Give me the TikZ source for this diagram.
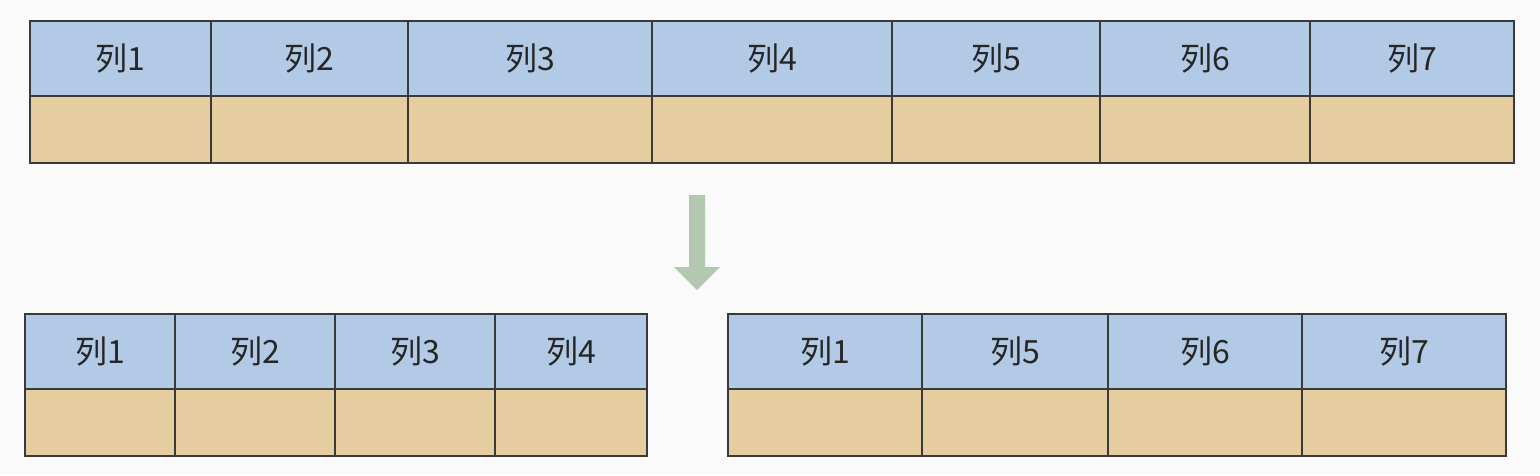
\documentclass[tikz,border=0pt]{standalone}
\usepackage{fontspec}
\newfontfamily\cjk{Noto Sans CJK SC}
\definecolor{headblue}{HTML}{B3CAE6}
\definecolor{bodytan}{HTML}{E6CDA0}
\definecolor{arrowgreen}{HTML}{B2C8B0}
\definecolor{gridline}{HTML}{3A3A3A}
\definecolor{paper}{HTML}{FAFAFA}
\tikzset{
  colhead/.style={draw=gridline,line width=1.5pt,fill=headblue,inner sep=0pt,minimum height=75pt,
    font=\cjk\fontsize{32}{36}\selectfont,text=black!85},
  colbody/.style={draw=gridline,line width=1.5pt,fill=bodytan,inner sep=0pt,minimum height=67pt}
}
\begin{document}
\begin{tikzpicture}[x=1pt,y=-1pt]
\fill[paper] (0,0) rectangle (1540,475);
\useasboundingbox (0,0) rectangle (1540,475);

% wide table
\node[colhead,minimum width=181pt] (h1) at (120.5,58.5) {列1};
\node[colhead,minimum width=197pt] (h2) at (309.5,58.5) {列2};
\node[colhead,minimum width=244pt] (h3) at (530,58.5) {列3};
\node[colhead,minimum width=240pt] (h4) at (772,58.5) {列4};
\node[colhead,minimum width=208pt] (h5) at (996,58.5) {列5};
\node[colhead,minimum width=210pt] (h6) at (1205,58.5) {列6};
\node[colhead,minimum width=204pt] (h7) at (1412,58.5) {列7};

\node[colbody,minimum width=181pt] (b1) at (120.5,129.5) {};
\node[colbody,minimum width=197pt] (b2) at (309.5,129.5) {};
\node[colbody,minimum width=244pt] (b3) at (530,129.5) {};
\node[colbody,minimum width=240pt] (b4) at (772,129.5) {};
\node[colbody,minimum width=208pt] (b5) at (996,129.5) {};
\node[colbody,minimum width=210pt] (b6) at (1205,129.5) {};
\node[colbody,minimum width=204pt] (b7) at (1412,129.5) {};

% split arrow
\fill[arrowgreen] (689,195) -- (705,195) -- (705,267) -- (720,267) -- (697,290)
  -- (674,267) -- (689,267) -- cycle;

% left part
\node[colhead,minimum width=150pt] (lh1) at (100,351.5) {列1};
\node[colhead,minimum width=160pt] (lh2) at (255,351.5) {列2};
\node[colhead,minimum width=160pt] (lh3) at (415,351.5) {列3};
\node[colhead,minimum width=152pt] (lh4) at (571,351.5) {列4};

\node[colbody,minimum width=150pt] (lb1) at (100,422.5) {};
\node[colbody,minimum width=160pt] (lb2) at (255,422.5) {};
\node[colbody,minimum width=160pt] (lb3) at (415,422.5) {};
\node[colbody,minimum width=152pt] (lb4) at (571,422.5) {};

% right part
\node[colhead,minimum width=194pt] (rh1) at (825,351.5) {列1};
\node[colhead,minimum width=186pt] (rh2) at (1015,351.5) {列5};
\node[colhead,minimum width=194pt] (rh3) at (1205,351.5) {列6};
\node[colhead,minimum width=204pt] (rh4) at (1404,351.5) {列7};

\node[colbody,minimum width=194pt] (rb1) at (825,422.5) {};
\node[colbody,minimum width=186pt] (rb2) at (1015,422.5) {};
\node[colbody,minimum width=194pt] (rb3) at (1205,422.5) {};
\node[colbody,minimum width=204pt] (rb4) at (1404,422.5) {};
\end{tikzpicture}
\end{document}
